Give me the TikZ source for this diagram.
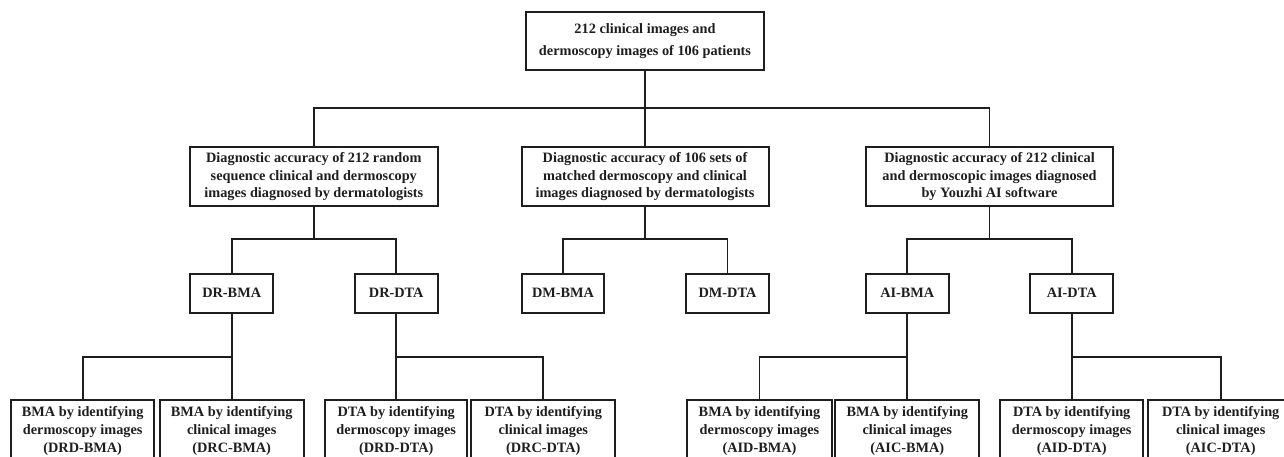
\documentclass[tikz,border=0pt]{standalone}
\usepackage{fontspec}
\setmainfont{Liberation Serif}
\definecolor{ink}{RGB}{30,30,30}
\begin{document}
\begin{tikzpicture}[x=1pt,y=-1pt,
  box/.style={draw=ink, text=ink, line width=2pt, inner sep=0pt, align=center},
  topfont/.style={font=\bfseries\fontsize{14.3}{22}\selectfont},
  midfont/.style={font=\bfseries\fontsize{14.3}{17.6}\selectfont},
  conn/.style={draw=ink, line width=1.8pt}]
\useasboundingbox (0,0) rectangle (1284,456);
\clip (0,0) rectangle (1284,456);
% level 0
\node[box, topfont, minimum width=238.6pt, minimum height=58.6pt] (top) at (645,41) {212 clinical images and\\dermoscopy images of 106 patients};
% level 1
\node[box, midfont, minimum width=247.7pt, minimum height=58.7pt] (m1) at (313.8,176.7) {Diagnostic accuracy of 212 random\\sequence clinical and dermoscopy\\images diagnosed by dermatologists};
\node[box, midfont, minimum width=247pt, minimum height=58.7pt] (m2) at (645,176.7) {Diagnostic accuracy of 106 sets of\\matched dermoscopy and clinical\\images diagnosed by dermatologists};
\node[box, midfont, minimum width=247.6pt, minimum height=58.7pt] (m3) at (989.5,176.7) {Diagnostic accuracy of 212 clinical\\and dermoscopic images diagnosed\\by Youzhi AI software};
% level 2
\node[box, midfont, minimum width=82.7pt, minimum height=39pt] (s1) at (231.7,293) {DR-BMA};
\node[box, midfont, minimum width=82.7pt, minimum height=39pt] (s2) at (396.2,293) {DR-DTA};
\node[box, midfont, minimum width=82.7pt, minimum height=39pt] (s3) at (563,293) {DM-BMA};
\node[box, midfont, minimum width=83pt, minimum height=39pt] (s4) at (727.5,293) {DM-DTA};
\node[box, midfont, minimum width=82.7pt, minimum height=39pt] (s5) at (907.3,293) {AI-BMA};
\node[box, midfont, minimum width=83pt, minimum height=39pt] (s6) at (1071.7,293) {AI-DTA};
% level 3
\node[box, midfont, minimum width=143.3pt, minimum height=62.6pt] (b1) at (82.7,431) {BMA by identifying\\dermoscopy images\\(DRD-BMA)};
\node[box, midfont, minimum width=144pt, minimum height=62.6pt] (b2) at (231.7,431) {BMA by identifying\\clinical images\\(DRC-BMA)};
\node[box, midfont, minimum width=142.4pt, minimum height=62.6pt] (b3) at (396.2,431) {DTA by identifying\\dermoscopy images\\(DRD-DTA)};
\node[box, midfont, minimum width=144pt, minimum height=62.6pt] (b4) at (543.3,431) {DTA by identifying\\clinical images\\(DRC-DTA)};
\node[box, midfont, minimum width=144.4pt, minimum height=62.6pt] (b5) at (759.5,431) {BMA by identifying\\dermoscopy images\\(AID-BMA)};
\node[box, midfont, minimum width=144pt, minimum height=62.6pt] (b6) at (907.3,431) {BMA by identifying\\clinical images\\(AIC-BMA)};
\node[box, midfont, minimum width=143.3pt, minimum height=62.6pt] (b7) at (1071.7,431) {DTA by identifying\\dermoscopy images\\(AID-DTA)};
\node[box, midfont, minimum width=145pt, minimum height=62.6pt] (b8) at (1220.7,431) {DTA by identifying\\clinical images\\(AIC-DTA)};
% junctions
\coordinate (j0) at (645,108.3);
\coordinate (j1) at (313.8,239.3);
\coordinate (j2) at (645,239.3);
\coordinate (j3) at (989.5,239.3);
\coordinate (k1) at (231.7,356.7);
\coordinate (k2) at (396.2,356.7);
\coordinate (k3) at (907.3,356.7);
\coordinate (k4) at (1071.7,356.7);
% connectors
\draw[conn] (top.south) -- (j0);
\draw[conn] (m1.north) |- (j0) -| (m3.north);
\draw[conn] (j0) -- (m2.north);
\draw[conn] (m1.south) -- (j1);
\draw[conn] (s1.north) |- (j1) -| (s2.north);
\draw[conn] (m2.south) -- (j2);
\draw[conn] (s3.north) |- (j2) -| (s4.north);
\draw[conn] (m3.south) -- (j3);
\draw[conn] (s5.north) |- (j3) -| (s6.north);
\draw[conn] (s1.south) -- (k1) -- (b2.north);
\draw[conn] (k1) -| (b1.north);
\draw[conn] (s2.south) -- (k2) -- (b3.north);
\draw[conn] (k2) -| (b4.north);
\draw[conn] (s5.south) -- (k3) -- (b6.north);
\draw[conn] (k3) -| (b5.north);
\draw[conn] (s6.south) -- (k4) -- (b7.north);
\draw[conn] (k4) -| (b8.north);
\end{tikzpicture}
\end{document}
